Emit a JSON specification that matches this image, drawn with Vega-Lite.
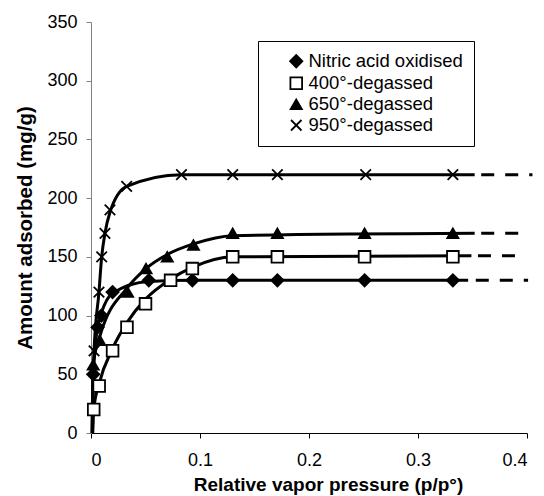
{
  "$schema": "https://vega.github.io/schema/vega-lite/v6.json",
  "width": 436,
  "height": 411,
  "autosize": "none",
  "padding": {"left": 91, "top": 22, "right": 17, "bottom": 63},
  "background": "white",
  "config": {
    "view": {"stroke": null},
    "font": "Liberation Sans",
    "axis": {"grid": false, "labelFont": "Liberation Sans", "titleFont": "Liberation Sans", "labelColor": "black", "titleColor": "black", "labelFontSize": 18, "titleFontWeight": "bold", "tickSize": 5},
    "legend": {"title": null, "orient": "none", "legendX": 167, "legendY": 19, "strokeColor": "black", "fillColor": "white", "padding": 11, "labelFontSize": 18.5, "labelFont": "Liberation Sans", "labelColor": "black", "rowPadding": 2, "symbolOffset": 18, "symbolStrokeWidth": 1.8, "labelOffset": 3}
  },
  "datasets": {
    "markers": [
      {"series": "Nitric acid oxidised", "p": 0.002, "v": 50},
      {"series": "Nitric acid oxidised", "p": 0.006, "v": 90},
      {"series": "Nitric acid oxidised", "p": 0.0095, "v": 100},
      {"series": "Nitric acid oxidised", "p": 0.0198, "v": 120},
      {"series": "Nitric acid oxidised", "p": 0.053, "v": 130},
      {"series": "Nitric acid oxidised", "p": 0.093, "v": 130},
      {"series": "Nitric acid oxidised", "p": 0.13, "v": 130},
      {"series": "Nitric acid oxidised", "p": 0.171, "v": 130},
      {"series": "Nitric acid oxidised", "p": 0.251, "v": 130},
      {"series": "Nitric acid oxidised", "p": 0.332, "v": 130},
      {"series": "400°-degassed", "p": 0.0025, "v": 20},
      {"series": "400°-degassed", "p": 0.0075, "v": 40},
      {"series": "400°-degassed", "p": 0.0198, "v": 70},
      {"series": "400°-degassed", "p": 0.033, "v": 90},
      {"series": "400°-degassed", "p": 0.05, "v": 110},
      {"series": "400°-degassed", "p": 0.073, "v": 130},
      {"series": "400°-degassed", "p": 0.093, "v": 140},
      {"series": "400°-degassed", "p": 0.13, "v": 150},
      {"series": "400°-degassed", "p": 0.171, "v": 150},
      {"series": "400°-degassed", "p": 0.251, "v": 150},
      {"series": "400°-degassed", "p": 0.332, "v": 150},
      {"series": "650°-degassed", "p": 0.002, "v": 58},
      {"series": "650°-degassed", "p": 0.008, "v": 79},
      {"series": "650°-degassed", "p": 0.0336, "v": 120},
      {"series": "650°-degassed", "p": 0.0505, "v": 140},
      {"series": "650°-degassed", "p": 0.07, "v": 150},
      {"series": "650°-degassed", "p": 0.094, "v": 160},
      {"series": "650°-degassed", "p": 0.13, "v": 170},
      {"series": "650°-degassed", "p": 0.171, "v": 170},
      {"series": "650°-degassed", "p": 0.251, "v": 170},
      {"series": "650°-degassed", "p": 0.332, "v": 170},
      {"series": "950°-degassed", "p": 0.0028, "v": 70},
      {"series": "950°-degassed", "p": 0.0073, "v": 120},
      {"series": "950°-degassed", "p": 0.0098, "v": 150},
      {"series": "950°-degassed", "p": 0.0128, "v": 170},
      {"series": "950°-degassed", "p": 0.0174, "v": 190},
      {"series": "950°-degassed", "p": 0.0327, "v": 210},
      {"series": "950°-degassed", "p": 0.083, "v": 220},
      {"series": "950°-degassed", "p": 0.13, "v": 220},
      {"series": "950°-degassed", "p": 0.171, "v": 220},
      {"series": "950°-degassed", "p": 0.252, "v": 220},
      {"series": "950°-degassed", "p": 0.332, "v": 220}
    ],
    "curves": [
      {"series": "Nitric acid oxidised", "p": 0.001, "v": 0},
      {"series": "Nitric acid oxidised", "p": 0.002, "v": 50},
      {"series": "Nitric acid oxidised", "p": 0.006, "v": 90},
      {"series": "Nitric acid oxidised", "p": 0.0095, "v": 102},
      {"series": "Nitric acid oxidised", "p": 0.0198, "v": 119},
      {"series": "Nitric acid oxidised", "p": 0.053, "v": 129},
      {"series": "Nitric acid oxidised", "p": 0.093, "v": 130},
      {"series": "Nitric acid oxidised", "p": 0.346, "v": 130},
      {"series": "400°-degassed", "p": 0.0015, "v": 0},
      {"series": "400°-degassed", "p": 0.0025, "v": 20},
      {"series": "400°-degassed", "p": 0.0075, "v": 42},
      {"series": "400°-degassed", "p": 0.0198, "v": 72},
      {"series": "400°-degassed", "p": 0.033, "v": 94},
      {"series": "400°-degassed", "p": 0.05, "v": 114},
      {"series": "400°-degassed", "p": 0.073, "v": 131},
      {"series": "400°-degassed", "p": 0.093, "v": 141},
      {"series": "400°-degassed", "p": 0.13, "v": 150},
      {"series": "400°-degassed", "p": 0.349, "v": 151},
      {"series": "650°-degassed", "p": 0.001, "v": 0},
      {"series": "650°-degassed", "p": 0.002, "v": 58},
      {"series": "650°-degassed", "p": 0.008, "v": 82},
      {"series": "650°-degassed", "p": 0.0336, "v": 124},
      {"series": "650°-degassed", "p": 0.0505, "v": 140},
      {"series": "650°-degassed", "p": 0.07, "v": 152},
      {"series": "650°-degassed", "p": 0.094, "v": 161},
      {"series": "650°-degassed", "p": 0.13, "v": 168},
      {"series": "650°-degassed", "p": 0.352, "v": 170},
      {"series": "950°-degassed", "p": 0.0015, "v": 0},
      {"series": "950°-degassed", "p": 0.0028, "v": 70},
      {"series": "950°-degassed", "p": 0.0073, "v": 120},
      {"series": "950°-degassed", "p": 0.0098, "v": 150},
      {"series": "950°-degassed", "p": 0.0128, "v": 170},
      {"series": "950°-degassed", "p": 0.0174, "v": 188},
      {"series": "950°-degassed", "p": 0.0327, "v": 210},
      {"series": "950°-degassed", "p": 0.083, "v": 220},
      {"series": "950°-degassed", "p": 0.352, "v": 220}
    ],
    "dashes": [
      {"series": "Nitric acid oxidised", "p": 0.353, "v": 130},
      {"series": "Nitric acid oxidised", "p": 0.401, "v": 130},
      {"series": "400°-degassed", "p": 0.355, "v": 151},
      {"series": "400°-degassed", "p": 0.389, "v": 151},
      {"series": "650°-degassed", "p": 0.358, "v": 170},
      {"series": "650°-degassed", "p": 0.394, "v": 170},
      {"series": "950°-degassed", "p": 0.358, "v": 220},
      {"series": "950°-degassed", "p": 0.405, "v": 220}
    ]
  },
  "encoding": {
    "x": {"field": "p", "type": "quantitative", "scale": {"domain": [0, 0.4], "nice": false},
      "axis": {"values": [0, 0.1, 0.2, 0.3, 0.4], "format": "~g", "title": "Relative vapor pressure (p/p°)", "titleFontSize": 19, "domainColor": "black", "tickColor": "black", "labelPadding": 13, "titleX": 237, "titleY": 51, "titleBaseline": "middle", "titleAnchor": "middle", "titleAlign": "center"}},
    "y": {"field": "v", "type": "quantitative", "scale": {"domain": [0, 350], "nice": false},
      "axis": {"values": [0, 50, 100, 150, 200, 250, 300, 350], "title": "Amount adsorbed (mg/g)", "titleFontSize": 20.5, "domainColor": "#808080", "tickColor": "#808080", "labelPadding": 9, "titleX": -66, "titleBaseline": "middle"}}
  },
  "layer": [
    {
      "data": {"name": "curves"},
      "mark": {"type": "line", "interpolate": "monotone", "color": "black", "strokeWidth": 3},
      "encoding": {"detail": {"field": "series"}}
    },
    {
      "data": {"name": "dashes"},
      "mark": {"type": "line", "color": "black", "strokeWidth": 3, "strokeDash": [13, 11], "strokeCap": "butt"},
      "encoding": {"detail": {"field": "series"}}
    },
    {
      "data": {"name": "markers"},
      "mark": {"type": "point", "stroke": "black", "strokeWidth": 1.8, "opacity": 1},
      "encoding": {
        "shape": {"field": "series", "type": "nominal",
          "scale": {"domain": ["Nitric acid oxidised", "400°-degassed", "650°-degassed", "950°-degassed"],
            "range": ["diamond", "square", "triangle-up", "M-1,-1L1,1M-1,1L1,-1"]},
          "legend": {"encode": {"symbols": {"update": {"stroke": {"value": "black"}, "strokeWidth": {"value": 1.8}}}}}},
        "fill": {"field": "series", "type": "nominal",
          "scale": {"domain": ["Nitric acid oxidised", "400°-degassed", "650°-degassed", "950°-degassed"],
            "range": ["black", "white", "black", "transparent"]},
          "legend": {"encode": {"symbols": {"update": {"stroke": {"value": "black"}, "strokeWidth": {"value": 1.8}}}}}},
        "size": {"field": "series", "type": "nominal",
          "scale": {"domain": ["Nitric acid oxidised", "400°-degassed", "650°-degassed", "950°-degassed"],
            "range": [150, 110, 130, 190]},
          "legend": {"encode": {"symbols": {"update": {"stroke": {"value": "black"}, "strokeWidth": {"value": 1.8}}}}}}
      }
    }
  ]
}
